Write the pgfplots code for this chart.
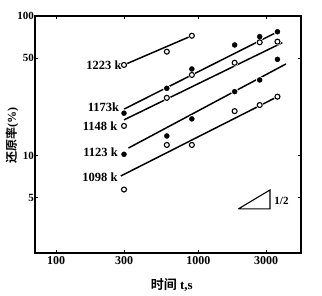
\documentclass[border=0pt]{standalone}
\usepackage{fontspec}
\setmainfont{Liberation Serif}
\newfontfamily\cjk{Noto Sans CJK SC}[BoldFont={Noto Sans CJK SC Bold}]
\usepackage{pgfplots}
\pgfplotsset{compat=1.18}
\begin{document}
\begin{tikzpicture}
\useasboundingbox (-35pt,-43pt) rectangle (287pt,253pt);
\begin{axis}[
  at={(0,0)}, anchor=south west,
  scale only axis, width=266pt, height=237pt,
  xmode=log, ymode=log,
  xmin=71, xmax=5270, ymin=2, ymax=100,
  xtick={100,300,1000,3000}, xticklabels={100,300,1000,3000},
  ytick={5,10,50,100}, yticklabels={5,10,50,100},
  minor xtick={}, minor ytick={},
  tick align=inside, major tick length=3pt,
  tick style={black, line width=0.9pt},
  axis line style={line width=1.3pt},
  xticklabel style={font=\bfseries\fontsize{12}{12}\selectfont},
  yticklabel style={font=\bfseries\fontsize{11}{11}\selectfont, inner sep=1pt},
  clip=false,
]
% fitted lines
\addplot[black, line width=1.5pt] coordinates {(300,44.6) (900,72.2)};
\addplot[black, line width=1.5pt] coordinates {(300,21.5) (3600,77)};
\addplot[black, line width=1.5pt] coordinates {(300,18) (3900,64.4)};
\addplot[black, line width=1.5pt] coordinates {(322,11.3) (4130,45.3)};
\addplot[black, line width=1.5pt] coordinates {(285,7.13) (3600,26.4)};
% halos
\addplot[only marks, mark=*, mark size=3.5pt, mark options={draw=white, fill=white}] coordinates {
 (300,44.6) (600,55.5) (900,72.2)
 (300,20.1) (600,30.3) (900,41.7) (1800,62) (2700,71.1) (3600,77.1)
 (300,16.3) (600,25.9) (900,37.8) (1800,46.2) (2700,64.8) (3600,65.5)
 (300,10.2) (600,13.8) (900,18.3) (1800,28.7) (2700,34.8) (3600,48.9)
 (300,5.7) (600,11.9) (900,11.9) (1800,20.8) (2700,23) (3600,26.4)};
% 1223 K open
\addplot[only marks, mark=o, mark size=2.5pt, mark options={draw=black, fill=white, line width=1.1pt}] coordinates {(300,44.6) (600,55.5) (900,72.2)};
% 1173 K filled
\addplot[only marks, mark=*, mark size=2.5pt, mark options={draw=black, fill=black}] coordinates {(300,20.1) (600,30.3) (900,41.7) (1800,62) (2700,71.1) (3600,77.1)};
% 1148 K open
\addplot[only marks, mark=o, mark size=2.5pt, mark options={draw=black, fill=white, line width=1.1pt}] coordinates {(300,16.3) (600,25.9) (900,37.8) (1800,46.2) (2700,64.8) (3600,65.5)};
% 1123 K filled
\addplot[only marks, mark=*, mark size=2.5pt, mark options={draw=black, fill=black}] coordinates {(300,10.2) (600,13.8) (900,18.3) (1800,28.7) (2700,34.8) (3600,48.9)};
% 1098 K open
\addplot[only marks, mark=o, mark size=2.5pt, mark options={draw=black, fill=white, line width=1.1pt}] coordinates {(300,5.7) (600,11.9) (900,11.9) (1800,20.8) (2700,23) (3600,26.4)};
% slope triangle
\addplot[black, line width=1.1pt] coordinates {(1910,4.14) (3190,4.14) (3190,5.66) (1910,4.14)};
% labels
\begin{scope}[every node/.style={font=\bfseries\fontsize{12.5}{12.5}\selectfont, inner sep=0pt, anchor=east}]
\node at (rel axis cs:0.326,0.793) {1223 k};
\node at (rel axis cs:0.317,0.615) {1173k};
\node at (rel axis cs:0.310,0.536) {1148 k};
\node at (rel axis cs:0.312,0.427) {1123 k};
\node at (rel axis cs:0.311,0.318) {1098 k};
\end{scope}
\node[anchor=west, inner sep=0pt, font=\bfseries\fontsize{11}{11}\selectfont] at (rel axis cs:0.8996,0.2207) {1/2};
\node[font=\bfseries\fontsize{13}{13}\selectfont, inner sep=0pt] at ([yshift=-32pt]rel axis cs:0.514,0) {{\cjk\bfseries 时间} t,s};
\node[rotate=90, font=\bfseries\fontsize{12}{12}\selectfont, inner sep=0pt] at ([xshift=-23pt]rel axis cs:0,0.494) {{\cjk\bfseries 还原率}(\%)};
\end{axis}
\end{tikzpicture}
\end{document}
